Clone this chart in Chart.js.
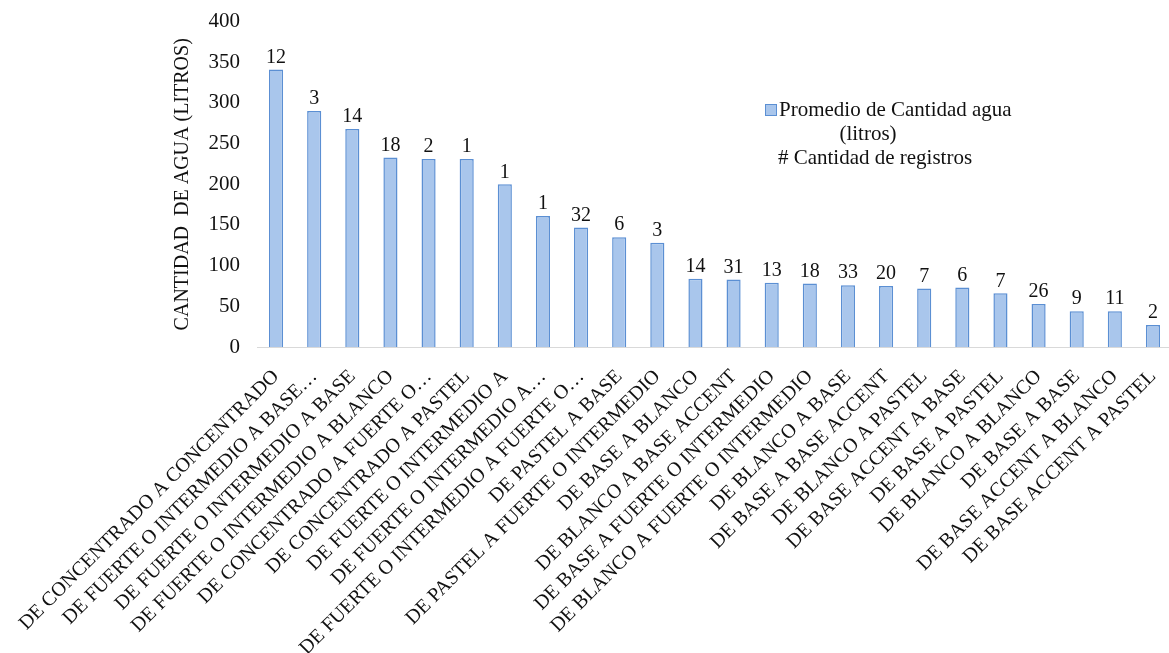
<!DOCTYPE html>
<html>
<head>
<meta charset="utf-8">
<script src="https://cdn.jsdelivr.net/npm/chart.js@4"></script>
<style>
  html, body { margin: 0; padding: 0; background: #fff; overflow: hidden; }
  canvas { display: block; }
</style>
</head>
<body>
<canvas id="chart" width="1180" height="653"></canvas>
<script>
const categories = [
  "DE CONCENTRADO A CONCENTRADO",
  "DE FUERTE O INTERMEDIO A BASE…",
  "DE FUERTE O INTERMEDIO A BASE",
  "DE FUERTE O INTERMEDIO A BLANCO",
  "DE CONCENTRADO A FUERTE O…",
  "DE CONCENTRADO A PASTEL",
  "DE FUERTE O INTERMEDIO A",
  "DE FUERTE O INTERMEDIO A…",
  "DE FUERTE O INTERMEDIO A FUERTE O…",
  "DE PASTEL A BASE",
  "DE PASTEL A FUERTE O INTERMEDIO",
  "DE BASE A BLANCO",
  "DE BLANCO A BASE ACCENT",
  "DE BASE A FUERTE O INTERMEDIO",
  "DE BLANCO A FUERTE O INTERMEDIO",
  "DE BLANCO A BASE",
  "DE BASE A BASE ACCENT",
  "DE BLANCO A PASTEL",
  "DE BASE ACCENT A BASE",
  "DE BASE A PASTEL",
  "DE BLANCO A BLANCO",
  "DE BASE A BASE",
  "DE BASE ACCENT A BLANCO",
  "DE BASE ACCENT A PASTEL"
];
// promedio de cantidad de agua (litros)
const avgWater = [341, 290, 268, 233, 231, 231, 200, 161, 147, 135, 128, 84, 83, 79, 78, 76, 75, 72, 73, 66, 53, 44, 44, 27];
// # cantidad de registros
const recordCounts = [12, 3, 14, 18, 2, 1, 1, 1, 32, 6, 3, 14, 31, 13, 18, 33, 20, 7, 6, 7, 26, 9, 11, 2];
const yTicks = [0, 50, 100, 150, 200, 250, 300, 350, 400];

const serif = "'Liberation Serif', 'Times New Roman', serif";
const barFill = "#a9c6ec";
const barBorder = "#5b8fd3";

const countLabels = {
  id: "countLabels",
  afterDatasetsDraw(chart) {
    const ctx = chart.ctx;
    const meta = chart.getDatasetMeta(0);
    ctx.save();
    ctx.font = "20px " + serif;
    ctx.fillStyle = "#111";
    ctx.textAlign = "center";
    ctx.textBaseline = "bottom";
    meta.data.forEach((bar, i) => {
      ctx.fillText(String(recordCounts[i]), bar.x, bar.y - 2);
    });
    ctx.restore();
  }
};

const sideLegend = {
  id: "sideLegend",
  afterDraw(chart) {
    const ctx = chart.ctx;
    ctx.save();
    ctx.fillStyle = barFill;
    ctx.strokeStyle = barBorder;
    ctx.lineWidth = 1;
    ctx.fillRect(765.5, 104.5, 11, 11);
    ctx.strokeRect(765.5, 104.5, 11, 11);
    ctx.font = "21px " + serif;
    ctx.fillStyle = "#111";
    ctx.textBaseline = "middle";
    ctx.textAlign = "left";
    ctx.fillText("Promedio de Cantidad agua", 779, 110);
    ctx.textAlign = "center";
    ctx.fillText("(litros)", 868, 134);
    ctx.fillText("# Cantidad de registros", 875, 158);
    ctx.restore();
  }
};

new Chart(document.getElementById("chart"), {
  type: "bar",
  data: {
    labels: categories,
    datasets: [{
      label: "Promedio de Cantidad agua (litros)",
      data: avgWater,
      backgroundColor: barFill,
      borderColor: barBorder,
      borderWidth: 1.5,
      categoryPercentage: 1,
      barPercentage: 0.37
    }]
  },
  options: {
    responsive: false,
    animation: false,
    layout: { padding: { left: 160, right: 3, top: 12, bottom: 0 } },
    plugins: {
      legend: { display: false },
      tooltip: { enabled: false }
    },
    scales: {
      x: {
        grid: { display: false },
        border: { color: "#d9d9d9", width: 1 },
        ticks: {
          autoSkip: false,
          minRotation: 45,
          maxRotation: 45,
          padding: 10,
          color: "#111",
          font: { family: serif, size: 20 }
        },
        afterFit: s => { s.height = 306; }
      },
      y: {
        min: 0,
        max: 400,
        afterBuildTicks: s => { s.ticks = yTicks.map(v => ({ value: v })); },
        grid: { display: false },
        border: { display: false },
        ticks: {
          padding: 9,
          color: "#111",
          font: { family: serif, size: 21 }
        },
        title: {
          display: true,
          text: "CANTIDAD  DE AGUA (LITROS)",
          color: "#111",
          font: { family: serif, size: 20 },
          padding: { top: 11, bottom: 14 }
        },
        afterFit: s => { s.width = 97; }
      }
    }
  },
  plugins: [countLabels, sideLegend]
});
</script>
</body>
</html>
